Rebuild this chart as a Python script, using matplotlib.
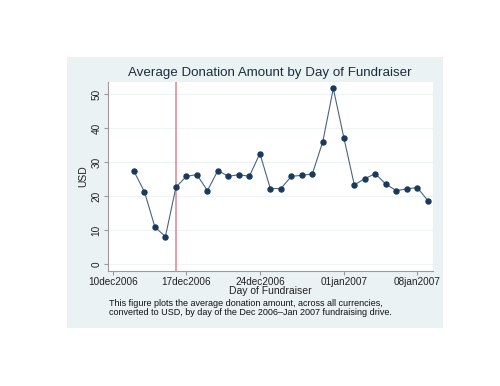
import matplotlib.pyplot as plt
import matplotlib.dates as mdates
import datetime as dt

plt.rcParams['font.family'] = ['Liberation Sans', 'DejaVu Sans']

# average donation per day, 12 Dec 2006 .. 09 Jan 2007
start = dt.date(2006, 12, 12)
usd = [27.3, 21.3, 10.9, 8.1, 22.6, 25.8, 26.3, 21.6, 27.5, 25.8,
       26.3, 25.8, 32.5, 22.2, 22.2, 25.8, 26.1, 26.5, 36.0, 51.6,
       37.2, 23.3, 25.1, 26.6, 23.5, 21.6, 22.1, 22.5, 18.7]
days = [start + dt.timedelta(days=i) for i in range(len(usd))]
marker_day = dt.date(2006, 12, 16)
tick_days = [dt.date(2006, 12, 10), dt.date(2006, 12, 17), dt.date(2006, 12, 24),
             dt.date(2007, 1, 1), dt.date(2007, 1, 8)]
tick_labels = ["10dec2006", "17dec2006", "24dec2006", "01jan2007", "08jan2007"]
y_ticks = [0, 10, 20, 30, 40, 50]

W, H = 500, 386
fig = plt.figure(figsize=(5, 3.86), dpi=100)
fig.patch.set_facecolor('white')

# Stata-like graph region
bg = plt.Rectangle((67 / W, 1 - 328 / H), (443 - 67) / W, (328 - 57) / H,
                   transform=fig.transFigure, facecolor='#EAF2F3', edgecolor='none', zorder=-5)
fig.patches.append(bg)

ax = fig.add_axes([107.7 / W, 1 - 271 / H, (433 - 107.7) / W, (271 - 82) / H])
ax.set_zorder(2)
ax.set_facecolor('white')

ax.plot(days, usd, color='#4A6580', lw=0.8, marker='o', markersize=3.6,
        markerfacecolor='#1A3A5C', markeredgecolor='#1A3A5C', zorder=3)
ax.axvline(marker_day, color='#E397A2', lw=1.3, zorder=2)

d0 = mdates.date2num(dt.date(2006, 12, 10))
ax.set_xlim(d0 - 0.5, d0 + 30.5)
ax.set_ylim(-2, 53.5)
ax.set_xticks(tick_days)
ax.set_xticklabels(tick_labels, fontsize=7.2)
ax.set_yticks(y_ticks)
ax.set_yticklabels([str(v) for v in y_ticks], fontsize=7.2, rotation=90, va='center')
ax.grid(axis='y', color='#EEF3F3', lw=0.8)
ax.set_axisbelow(True)

for s in ['top', 'right']:
    ax.spines[s].set_visible(False)
for s in ['left', 'bottom']:
    ax.spines[s].set_color('#9A9A9A')
    ax.spines[s].set_linewidth(0.8)
ax.tick_params(colors='#9A9A9A', labelcolor='#222222', length=3, width=0.8, pad=1.5)

ax.set_ylabel("USD", fontsize=7.5, color='#222222', labelpad=2)
ax.set_xlabel("Day of Fundraiser", fontsize=7.5, color='#222222', labelpad=-1)
fig.text(270 / W, 1 - 73 / H, "Average Donation Amount by Day of Fundraiser",
         ha='center', va='center', fontsize=9.6, color='#1E2E3E')
fig.text(109 / W, 1 - 308 / H,
         "This figure plots the average donation amount, across all currencies,\n"
         "converted to USD, by day of the Dec 2006\u2013Jan 2007 fundraising drive.",
         ha='left', va='center', fontsize=6.5, color='#111111', linespacing=1.1)

fig.savefig("out.png", dpi=100)
